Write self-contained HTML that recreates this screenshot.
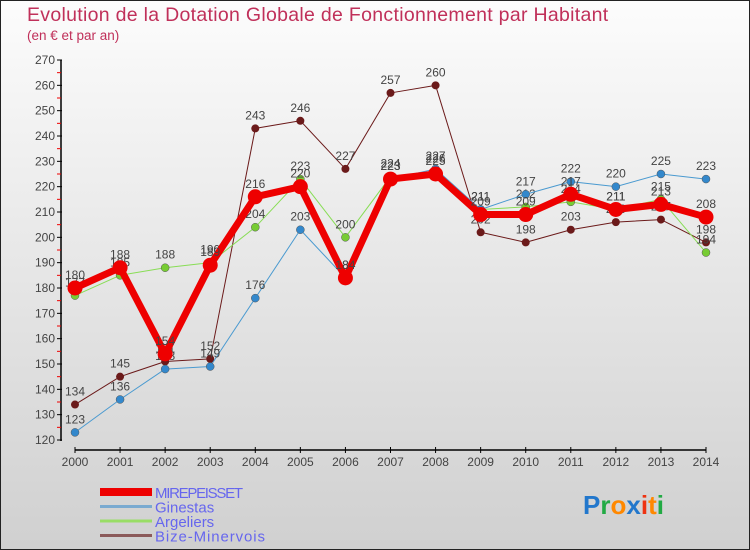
<!DOCTYPE html>
<html><head><meta charset="utf-8"><style>
body{margin:0}
#wrap{position:relative;width:748px;height:548px;border:1px solid #222;background:linear-gradient(#fcfcfc,#d0d0d0);font-family:"Liberation Sans",sans-serif;overflow:hidden}
.t{position:absolute;color:#c0305a}
</style></head><body>
<div id="wrap">
<div class="t" style="left:26px;top:3px;font-size:19.5px;letter-spacing:0.3px">Evolution de la Dotation Globale de Fonctionnement par Habitant</div>
<div class="t" style="left:26px;top:27px;font-size:13.5px">(en € et par an)</div>
<svg id="svg" width="750" height="550" style="position:absolute;left:-1px;top:-1px"></svg>
</div>
<script>
const years=["2000","2001","2002","2003","2004","2005","2006","2007","2008","2009","2010","2011","2012","2013","2014"];
const mirepeisset=[180,188,154,189,216,220,184,223,225,209,209,217,211,213,208];
const ginestas=[123,136,148,149,176,203,184,223,227,211,217,222,220,225,223];
const argeliers=[177,185,188,190,204,223,200,224,226,211,212,214,211,215,194];
const bize=[134,145,151,152,243,246,227,257,260,202,198,203,206,207,198];
const yTicks=[120,130,140,150,160,170,180,190,200,210,220,230,240,250,260,270];
const seriesNames=["MIREPEISSET","Ginestas","Argeliers","Bize-Minervois"];
const NS="http://www.w3.org/2000/svg";
const svg=document.getElementById('svg');
const x=i=>75+i*(706-75)/14;
const y=v=>440-(v-120)*(380/150);
function el(t,a,p){const e=document.createElementNS(NS,t);for(const k in a)e.setAttribute(k,a[k]);(p||svg).appendChild(e);return e;}
let ax=el('line',{x1:61,y1:60,x2:61,y2:441,stroke:'#000','stroke-width':1.5});


yTicks.forEach((v,i)=>{
 el('line',{x1:57,x2:62,y1:y(v),y2:y(v),stroke:'#000'});
 if(i<yTicks.length-1) el('line',{x1:57,x2:61,y1:y(v+5),y2:y(v+5),stroke:'#e00'});
 const t=el('text',{x:55,y:y(v)+4,'text-anchor':'end','font-size':12,fill:'#444'});t.textContent=v;
 
 
});
let xa=el('line',{x1:75,y1:450,x2:706,y2:450,stroke:'#000','stroke-width':1.5});


years.forEach((yr,i)=>{
 el('line',{x1:x(i),x2:x(i),y1:447,y2:453,stroke:'#000'});
 const t=el('text',{x:x(i),y:466,'text-anchor':'middle','font-size':12,fill:'#444'});t.textContent=yr;
 
 
});
function series(d,color,w,r,dot,name){
 const g=el('g',{});
 
 
 el('polyline',{points:d.map((v,i)=>x(i)+','+y(v)).join(' '),fill:'none',stroke:color,'stroke-width':w,'stroke-linejoin':'round'},g);
 d.forEach((v,i)=>{
  const c=el('circle',{cx:x(i),cy:y(v),r:r,fill:dot,stroke:dot==color?'none':'#555','stroke-width':0.5},g);
  
  
  const t=el('text',{x:x(i),y:y(v)-9,'text-anchor':'middle','font-size':12,fill:'#444'},g);t.textContent=v;
 });
}
series(bize,'#6b1a1a',1,4,'#6b1a1a','series-bize-minervois');
series(argeliers,'#88dd55',1,4,'#77cc33','series-argeliers');
series(ginestas,'#4a9ad0',1,4,'#3388cc','series-ginestas');
series(mirepeisset,'#ee0000',7,7.5,'#ee0000','series-mirepeisset');
const lc=['#ee0000','#7aaad0','#99dd66','#8b5a5a'],lw=[8,3,3,3];
seriesNames.forEach((n,i)=>{
 const g=el('g',{});
 
 
 el('line',{x1:100,x2:152,y1:492+i*14.5,y2:492+i*14.5,stroke:lc[i],'stroke-width':lw[i]},g);
 const t=el('text',{x:155,y:498+i*14.5,'font-size':15,fill:'#6666ee',textLength:i==0?88:(i==3?110:null)},g);
 if(i!=0&&i!=3)t.removeAttribute('textLength');
 t.textContent=n;
});
const lg=el('text',{x:583,y:514,'font-size':26,'font-weight':'bold'});


[['P','#2277cc'],['r','#22aa44'],['o','#ff8800'],['x','#2277cc'],['i','#ee3311'],['t','#ff8800'],['i','#22aa44']].forEach(([c,f])=>{const s=el('tspan',{fill:f},lg);s.textContent=c;});
</script>
</body></html>
